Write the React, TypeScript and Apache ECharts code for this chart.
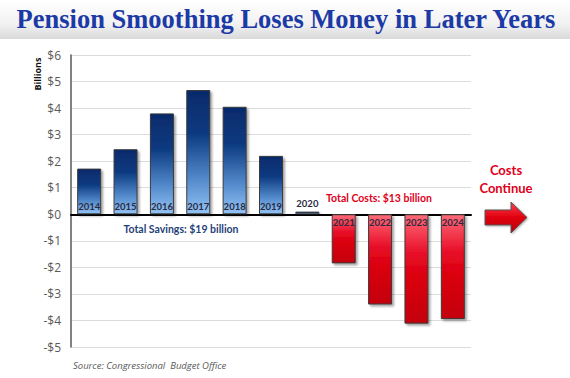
import React, { useEffect, useRef } from "react";
import * as echarts from "echarts";

const years = ["2014", "2015", "2016", "2017", "2018", "2019", "2020", "2021", "2022", "2023", "2024"];
const values = [1.72, 2.45, 3.8, 4.68, 4.05, 2.2, 0.1, -1.85, -3.4, -4.12, -3.95];
const yTicks = [-5, 6];
const titleText = "Pension Smoothing Loses Money in Later Years";
const savingsNote = "Total Savings: $19 billion";
const costsNote = "Total Costs: $13 billion";
const continueLine1 = "Costs";
const continueLine2 = "Continue";
const sourceNote = "Source: Congressional  Budget Office";

const blueGrad = new echarts.graphic.LinearGradient(0, 0, 0, 1, [
  { offset: 0, color: "#062a6b" },
  { offset: 0.35, color: "#0c3a80" },
  { offset: 0.7, color: "#4f86c8" },
  { offset: 1, color: "#92c3f6" },
]);
const redGrad = new echarts.graphic.LinearGradient(0, 0, 0, 1, [
  { offset: 0, color: "#ff6a78" },
  { offset: 0.35, color: "#e8102a" },
  { offset: 0.55, color: "#dc0010" },
  { offset: 1, color: "#c4000c" },
]);

export default function App() {
  const ref = useRef<HTMLDivElement>(null);
  useEffect(() => {
    const chart = echarts.init(ref.current!, null, { renderer: "svg" });
    const data = values.map((v) => {
      const pos = v < 0 ? "insideTop" : v < 0.5 ? "top" : "insideBottom";
      return {
        value: v,
        itemStyle: { color: v < 0 ? redGrad : blueGrad },
        label: { position: pos },
      };
    });
    chart.setOption({
      animation: false,
      backgroundColor: "#ffffff",
      grid: { left: 71, right: 99, top: 55, bottom: 31, containLabel: false },
      xAxis: {
        type: "category",
        data: years,
        axisLine: { onZero: true, lineStyle: { color: "#000000", width: 2 } },
        axisTick: { show: false },
        axisLabel: { show: false },
      },
      yAxis: {
        type: "value",
        min: yTicks[0],
        max: yTicks[1],
        interval: 1,
        axisLine: { show: true, lineStyle: { color: "#595959", width: 1.5 } },
        axisTick: { show: false },
        splitLine: { lineStyle: { color: "#dcdcdc", width: 1 } },
        axisLabel: {
          color: "#595959",
          fontFamily: "Open Sans",
          fontSize: 12,
          margin: 10,
          formatter: (v: number) => (v < 0 ? "-$" + Math.abs(v) : "$" + v),
        },
      },
      series: [
        {
          type: "bar",
          data,
          barWidth: 24,
          itemStyle: {
            borderColor: "#3a3a3a",
            borderWidth: 1,
            shadowColor: "rgba(0,0,0,0.35)",
            shadowBlur: 2,
            shadowOffsetX: 2,
            shadowOffsetY: 2,
          },
          label: {
            show: true,
            formatter: "{b}",
            fontSize: 9.5,
            fontWeight: "bold",
            fontFamily: "Lato",
            color: "#2a2a40",
            distance: 3,
          },
        },
      ],
      graphic: [
        {
          type: "rect",
          shape: { x: 0, y: 0, width: 570, height: 39 },
          style: {
            fill: new echarts.graphic.LinearGradient(0, 0, 0, 1, [
              { offset: 0, color: "#ffffff" },
              { offset: 0.6, color: "#f2f2f2" },
              { offset: 1, color: "#dadada" },
            ]),
          },
          z: 0,
        },
        {
          type: "text",
          x: 286,
          y: 19,
          style: {
            text: titleText,
            fill: "#1c3aa6",
            font: "bold 26.5px 'Liberation Serif'",
            textAlign: "center",
            textVerticalAlign: "middle",
          },
        },
        {
          type: "text",
          x: 37,
          y: 74,
          rotation: Math.PI / 2,
          style: {
            text: "Billions",
            fill: "#111111",
            font: "bold 9px 'Open Sans'",
            textAlign: "center",
            textVerticalAlign: "middle",
          },
        },
        {
          type: "text",
          x: 181,
          y: 229,
          style: {
            text: savingsNote,
            fill: "#1f3f78",
            font: "bold 10.5px 'Lato'",
            textAlign: "center",
            textVerticalAlign: "middle",
          },
        },
        {
          type: "text",
          x: 379,
          y: 198,
          style: {
            text: costsNote,
            fill: "#e0001a",
            font: "bold 10.5px 'Lato'",
            textAlign: "center",
            textVerticalAlign: "middle",
          },
        },
        {
          type: "text",
          x: 506,
          y: 170,
          style: {
            text: continueLine1,
            fill: "#e0001a",
            font: "bold 13px 'Lato'",
            textAlign: "center",
            textVerticalAlign: "middle",
          },
        },
        {
          type: "text",
          x: 506,
          y: 188,
          style: {
            text: continueLine2,
            fill: "#e0001a",
            font: "bold 13px 'Lato'",
            textAlign: "center",
            textVerticalAlign: "middle",
          },
        },
        {
          type: "polygon",
          shape: {
            points: [
              [485, 210],
              [511, 210],
              [511, 202],
              [527, 217.5],
              [511, 233],
              [511, 225],
              [485, 225],
            ],
          },
          style: {
            fill: new echarts.graphic.LinearGradient(0, 0, 0, 1, [
              { offset: 0, color: "#ff4050" },
              { offset: 0.5, color: "#e00010" },
              { offset: 1, color: "#b8000a" },
            ]),
            stroke: "#555555",
            lineWidth: 1,
            shadowColor: "rgba(0,0,0,0.3)",
            shadowBlur: 2,
            shadowOffsetX: 1,
            shadowOffsetY: 1,
          },
        },
        {
          type: "text",
          x: 73,
          y: 365,
          style: {
            text: sourceNote,
            fill: "#595959",
            font: "italic 9.5px 'Open Sans'",
            textAlign: "left",
            textVerticalAlign: "middle",
          },
        },
      ],
    });
    return () => chart.dispose();
  }, []);
  return (
    <div
      ref={ref}
      style={{ position: "fixed", left: 0, top: 0, width: 570, height: 378 }}
    />
  );
}
